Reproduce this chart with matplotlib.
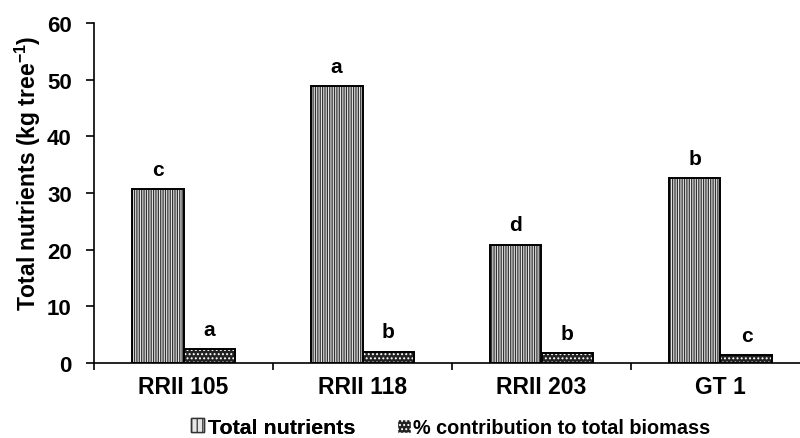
import numpy as np
import matplotlib
matplotlib.use('Agg')
import matplotlib.pyplot as plt
from matplotlib.patches import Patch

# data
clones = ["RRII 105", "RRII 118", "RRII 203", "GT 1"]
total_nutrients = [30.7, 48.9, 20.9, 32.6]
pct_biomass = [2.4, 2.0, 1.7, 1.4]
letters_total = ["c", "a", "d", "b"]
letters_pct = ["a", "b", "b", "c"]

plt.rcParams['font.family'] = ['Liberation Sans', 'DejaVu Sans']
plt.rcParams['font.weight'] = 'bold'
plt.rcParams['mathtext.fontset'] = 'custom'
plt.rcParams['mathtext.rm'] = 'Liberation Sans:bold'
plt.rcParams['mathtext.default'] = 'rm'
plt.rcParams['hatch.linewidth'] = 0.9

fig = plt.figure(figsize=(8, 4.39), dpi=100)
ax = fig.add_axes([94 / 800, 75 / 439, 1 - 94 / 800, 340 / 439])

x = np.arange(len(clones))
w = 0.29

# total nutrients: light face with vertical lines
ax.bar(x - w / 2, total_nutrients, w, facecolor='#e6e6e6', edgecolor='#333333',
       hatch='|' * 7, linewidth=0)
ax.bar(x - w / 2, total_nutrients, w, fill=False, edgecolor='black', linewidth=1.4)

# % contribution: dark face with small white dots
ax.bar(x + w / 2, pct_biomass, w, facecolor='#222222', edgecolor='white',
       hatch='....', linewidth=0)
ax.bar(x + w / 2, pct_biomass, w, fill=False, edgecolor='black', linewidth=1.4)

for xi, v, s in zip(x, total_nutrients, letters_total):
    ax.text(xi - w / 2, v + 1.8, s, ha='center', va='bottom', fontsize=15,
            fontweight='bold')
for xi, v, s in zip(x, pct_biomass, letters_pct):
    ax.text(xi + w / 2, v + 1.8, s, ha='center', va='bottom', fontsize=15,
            fontweight='bold')

ax.set_ylim(0, 60)
ax.set_yticks(range(0, 61, 10))
ax.set_xlim(-0.5, 3.5 - 10 / 179)
ax.set_xticks(x)
ax.set_xticklabels(clones, fontsize=16.5, fontweight='bold')
ax.set_xticks([-0.5, 0.5, 1.5, 2.5], minor=True)
ax.tick_params(axis='x', which='major', length=0, pad=9)
ax.tick_params(axis='x', which='minor', length=5, width=1.2, direction='out')
ax.tick_params(axis='y', length=6, width=1.2, labelsize=16, pad=10)
for lab in ax.get_yticklabels():
    lab.set_fontweight('bold')

ax.spines['top'].set_visible(False)
ax.spines['right'].set_visible(False)
ax.spines['left'].set_linewidth(1.2)
ax.spines['bottom'].set_linewidth(1.2)

ax.set_ylabel(r'Total nutrients (kg tree$^{-1}$)', fontsize=16.5,
              fontweight='bold')
ax.yaxis.set_label_coords(-0.072, 0.56)

# legend entries placed separately to follow the reference spacing
h1 = Patch(facecolor='#e6e6e6', edgecolor='#333333', hatch='|||', label='Total nutrients')
h2 = Patch(facecolor='#222222', edgecolor='white', hatch='....',
           label='% contribution to total biomass')
leg1 = fig.legend(handles=[h1], loc='center left', bbox_to_anchor=(191 / 800, 0.025),
                  frameon=False, fontsize=15.4, handlelength=0.6, handleheight=0.6,
                  handletextpad=0.2, borderpad=0, borderaxespad=0)
fig.add_artist(leg1)
fig.legend(handles=[h2], loc='center left', bbox_to_anchor=(397 / 800, 0.025),
           frameon=False, fontsize=14.3, handlelength=0.7, handleheight=0.7,
           handletextpad=0.1, borderpad=0, borderaxespad=0)

fig.savefig('out.png', dpi=100)
